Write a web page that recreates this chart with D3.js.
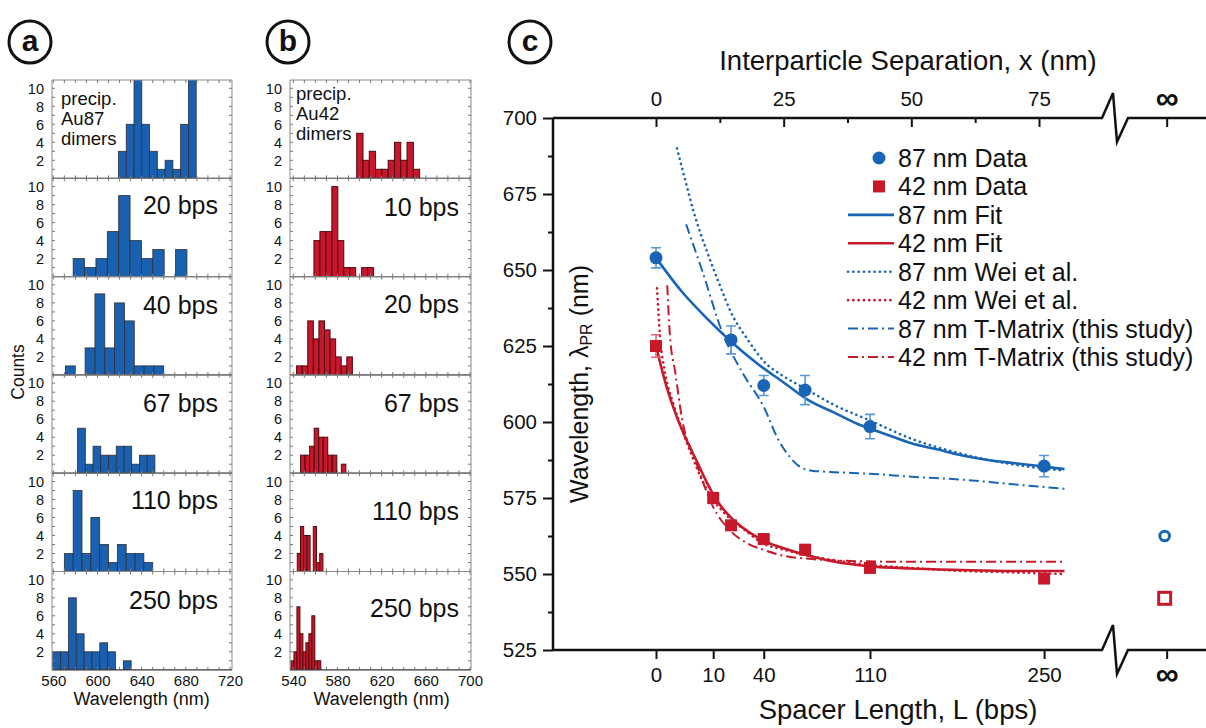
<!DOCTYPE html>
<html>
<head>
<meta charset="utf-8">
<script src="https://cdn.jsdelivr.net/npm/d3@7"></script>
<style>
  body { margin: 0; background: #fff; }
  svg text { font-family: "Liberation Sans", Arial, Helvetica, sans-serif; fill: #111; }
</style>
</head>
<body>
<svg id="fig" width="1206" height="728"></svg>
<script>
/* DATA */
// panel a: 87 nm dimers (left edge of first bin in nm, bin width in nm, counts)
const aNames = ["precip", "20 bps", "40 bps", "67 bps", "110 bps", "250 bps"];
const aStart = [619, 578, 571, 582, 570, 559.5];
const aBin = [7.04, 10.3, 8.9, 7.0, 8.0, 7.1];
const aCounts = [
  [3, 6, 12, 6, 3, 1, 2, 1, 6, 12],
  [2, 1, 2, 5, 9, 4, 2, 3, 0, 3],
  [1, 0, 3, 9, 3, 8, 6, 1, 1, 1],
  [5, 1, 3, 2, 2, 3, 3, 1, 2, 2],
  [2, 9, 2, 6, 3, 1, 3, 2, 2, 1],
  [2, 2, 8, 4, 2, 2, 3, 2, 0, 1]
];
const aTicks = [560, 600, 640, 680, 720];
const aPrecip = ["precip.", "Au87", "dimers"];

// panel b: 42 nm dimers
const bNames = ["precip", "10 bps", "20 bps", "67 bps", "110 bps", "250 bps"];
const bStart = [597.4, 558.7, 543, 546.6, 543.6, 537.9];
const bBin = [5.7, 5.4, 5.05, 4.1, 2.9, 2.7];
const bCounts = [
  [5, 2, 3, 1, 1, 2, 4, 2, 4, 1],
  [4, 5, 5, 10, 4, 1, 1, 0, 1, 1],
  [1, 1, 6, 4, 6, 5, 4, 2, 1, 2],
  [2, 2, 3, 5, 4, 4, 2, 2, 0, 1],
  [2, 5, 4, 4, 0, 5, 1, 2],
  [1, 2, 7, 4, 2, 3, 4, 6, 1, 1]
];
const bTicks = [540, 580, 620, 660, 700];
const bPrecip = ["precip.", "Au42", "dimers"];

// panel c
const sepTicks = [0, 25, 50, 75];
const sepMinor = [12.5, 37.5, 62.5];
const spacerLabels = ["0", "10", "40", "110", "250"];
const spacerSep = [0, 11.2, 21.1, 41.9, 76.0];
const INF = 100; // where the "infinity" column sits on the separation scale

const d87Sep = [0, 14.7, 21.1, 29.2, 41.9, 76.0];
const d87Wl = [654, 627, 612, 610.5, 598.5, 585.5];
const d87Err = [3.3, 4.6, 3.3, 4.8, 4.0, 3.5];
const d42Sep = [0, 11.2, 14.7, 21.1, 29.2, 41.9, 76.0];
const d42Wl = [625, 575, 566, 561.5, 558, 552, 548.5];
const d42Err = [3.7, 1.8, 1.6, 1.6, 1.2, 1.2, 0.8];
const inf87 = 562.5, inf42 = 542;

const fit87 = [[0,654],[5,643],[10,634],[15,626],[20,619],[25,613],[30,607],[35,603],[40,599],[45,596],[50,593],[55,591],[60,589],[65,587.5],[70,586.5],[75,585.5],[80,584.5]];
const fit42 = [[0,625],[2,612],[4,602],[6,594],[8,587],[10,580],[12,574],[15,568],[18,564],[21,561],[25,558.5],[30,556],[35,554],[42,552.5],[50,551.8],[60,551.3],[70,551],[80,551]];
const wei87 = [[4.1,690],[5.5,681],[7.4,669],[10,656],[12.5,645],[14.7,636],[18,627],[21.1,620],[25,615],[29.2,611],[35,605.5],[41.9,600.5],[50,594.5],[60,589.5],[70,586],[80,584]];
const wei42 = [[0.2,644],[0.8,628],[1.8,616],[3.4,606],[5,598],[7,589],[9,581],[11,575],[14,569],[17,565],[21,560],[25,558],[30,556],[35,554.5],[42,553],[50,552],[60,551],[70,550.5],[80,550]];
const tm87 = [[5.9,665],[9,650],[13.1,629],[17,616],[21.1,605],[24,594],[26.2,588.5],[28,585.5],[30.5,584],[35,583.5],[41.7,583],[50,582],[60.3,581],[70,579.5],[80.3,578]];
const tm42 = [[2.2,645],[2.7,629],[3.8,616],[5.1,601],[7.6,588],[11.2,572],[14.7,564],[18,560],[21,558],[25,556],[30,555],[40,554.2],[50,554],[60,554],[80,554]];

const legendNames = ["87 nm Data", "42 nm Data", "87 nm Fit", "42 nm Fit", "87 nm Wei et al.", "42 nm Wei et al.", "87 nm T-Matrix (this study)", "42 nm T-Matrix (this study)"];

/* STYLE */
const BLUE = "#1865b5", RED = "#c8192b";
const BLUE_ERR = "#5b98d8", RED_ERR = "#e2686e";
const DOT = "0.1,5.2", DASHDOT = "10,4,2,4";

const svg = d3.select("#fig");

/* PANEL LABELS */
[["a", 30], ["b", 288], ["c", 530]].forEach(([t, cx]) => {
  svg.append("circle").attr("cx", cx).attr("cy", 42).attr("r", 21)
    .attr("fill", "#fff").attr("stroke", "#111").attr("stroke-width", 3);
  svg.append("text").attr("x", cx).attr("y", 51).attr("text-anchor", "middle")
    .attr("font-size", 30).attr("font-weight", "bold").text(t);
});

/* HISTOGRAMS */
function histPanel(cfg) {
  const x = d3.scaleLinear().domain([cfg.ticks[0], cfg.ticks[cfg.ticks.length - 1]]).range(cfg.range);
  const g = svg.append("g");
  const h = cfg.h;
  cfg.counts.forEach((counts, i) => {
    const top = cfg.top + i * h, bottom = top + h;
    const y = d3.scaleLinear().domain([0, 10]).range([bottom, bottom - 90]);
    const sub = g.append("g");
    const clipId = cfg.id + i;
    sub.append("clipPath").attr("id", clipId).append("rect")
      .attr("x", cfg.left).attr("y", top).attr("width", cfg.right - cfg.left).attr("height", h);
    const bins = counts.map((c, k) => ({ x0: cfg.start[i] + k * cfg.bin[i], x1: cfg.start[i] + (k + 1) * cfg.bin[i], c }));
    sub.append("g").attr("clip-path", `url(#${clipId})`)
      .selectAll("rect").data(bins.filter(d => d.c > 0)).join("rect")
      .attr("x", d => x(d.x0)).attr("width", d => x(d.x1) - x(d.x0))
      .attr("y", d => y(d.c)).attr("height", d => y(0) - y(d.c))
      .attr("fill", cfg.fill).attr("stroke", cfg.stroke).attr("stroke-width", cfg.sw);

    // frame
    sub.append("path")
      .attr("d", `M${cfg.left},${bottom}V${top}H${cfg.right}V${bottom}`)
      .attr("fill", "none").attr("stroke", "#8a8a8a").attr("stroke-width", 1);
    sub.append("line").attr("x1", cfg.left).attr("x2", cfg.right).attr("y1", bottom).attr("y2", bottom)
      .attr("stroke", "#333").attr("stroke-width", 1.2);

    // small inward ticks
    const minorX = x.ticks(16);
    sub.append("g").selectAll("line").data(minorX).join("line")
      .attr("x1", d => x(d)).attr("x2", d => x(d)).attr("y1", bottom).attr("y2", bottom - 3)
      .attr("stroke", "#777").attr("stroke-width", 1);
    sub.append("g").selectAll("line").data(minorX).join("line")
      .attr("x1", d => x(d)).attr("x2", d => x(d)).attr("y1", top).attr("y2", top + 3)
      .attr("stroke", "#777").attr("stroke-width", 1);
    const minorY = d3.range(1, 11);
    sub.append("g").selectAll("line").data(minorY).join("line")
      .attr("x1", cfg.left).attr("x2", cfg.left + 3).attr("y1", d => y(d)).attr("y2", d => y(d))
      .attr("stroke", "#777").attr("stroke-width", 1);
    sub.append("g").selectAll("line").data(minorY).join("line")
      .attr("x1", cfg.right).attr("x2", cfg.right - 3).attr("y1", d => y(d)).attr("y2", d => y(d))
      .attr("stroke", "#777").attr("stroke-width", 1);

    // count labels
    sub.append("g").selectAll("text").data([2, 4, 6, 8, 10]).join("text")
      .attr("x", cfg.left - 8).attr("y", d => y(d)).attr("dy", "0.36em")
      .attr("text-anchor", "end").attr("font-size", 14.5).text(d => d);

    // name
    if (i === 0) {
      sub.append("g").selectAll("text").data(cfg.precip).join("text")
        .attr("x", cfg.left + cfg.precipDx).attr("y", (d, k) => top + cfg.precipDy + k * 20)
        .attr("font-size", 18.5).text(d => d);
    } else {
      sub.append("text").attr("x", cfg.labelX).attr("y", top + cfg.labelDy[i])
        .attr("text-anchor", "end").attr("font-size", 25).text(cfg.names[i]);
    }
  });

  const bottom = cfg.top + cfg.counts.length * h;
  g.append("g").attr("transform", `translate(0,${bottom})`)
    .call(d3.axisBottom(x).tickValues(cfg.ticks).tickSize(0).tickPadding(6))
    .call(a => a.select(".domain").remove())
    .call(a => a.selectAll("text").attr("font-size", 15).attr("font-family", null).attr("fill", "#111"));
  g.append("text").attr("x", (cfg.range[0] + cfg.range[1]) / 2).attr("y", 705)
    .attr("text-anchor", "middle").attr("font-size", 18).text("Wavelength (nm)");
}

histPanel({
  id: "ca", counts: aCounts, start: aStart, bin: aBin, names: aNames, precip: aPrecip,
  ticks: aTicks, range: [53.3, 230], left: 52, right: 232, top: 80, h: 98.3,
  fill: "#1a60b0", stroke: "#2f2f38", sw: 0.8, labelX: 218, labelDy: [0, 36, 37, 37, 36, 37],
  precipDx: 9, precipDy: 25
});
histPanel({
  id: "cb", counts: bCounts, start: bStart, bin: bBin, names: bNames, precip: bPrecip,
  ticks: bTicks, range: [293.3, 470], left: 290, right: 471, top: 80, h: 98.3,
  fill: "#c8162c", stroke: "#4e0a0e", sw: 1, labelX: 459, labelDy: [0, 38, 36, 37, 47, 45],
  precipDx: 6, precipDy: 20
});

svg.append("text").attr("transform", "translate(24,372) rotate(-90)")
  .attr("text-anchor", "middle").attr("font-size", 17.5).text("Counts");

/* PANEL C */
const xC = d3.scaleLinear().domain([0, 75]).range([656, 1039]);
const yC = d3.scaleLinear().domain([525, 700]).range([650, 118]);
const gc = svg.append("g");

// axes with breaks
const breakLine = y => `M553,${y}H1102L1113,${y - 25}L1117,${y + 24}L1128,${y}H1206`;
gc.append("path").attr("d", breakLine(yC(700))).attr("fill", "none").attr("stroke", "#111").attr("stroke-width", 2.5);
gc.append("path").attr("d", breakLine(yC(525))).attr("fill", "none").attr("stroke", "#111").attr("stroke-width", 2.5);
gc.append("line").attr("x1", 553).attr("x2", 553).attr("y1", yC(700)).attr("y2", yC(525))
  .attr("stroke", "#111").attr("stroke-width", 2.5);

function styleAxis(a, size) {
  a.select(".domain").remove();
  a.selectAll("line").attr("stroke", "#111").attr("stroke-width", 2);
  a.selectAll("text").attr("font-size", size).attr("font-family", null).attr("fill", "#111");
}

// top: interparticle separation
gc.append("g").attr("transform", `translate(0,${yC(700)})`)
  .call(d3.axisTop(xC).tickValues(sepTicks.concat([INF])).tickFormat(d => d === INF ? "∞" : d)
    .tickSizeInner(-9).tickSizeOuter(0).tickPadding(12))
  .call(a => styleAxis(a, 20.5))
  .call(a => a.selectAll(".tick").filter(d => d === INF).select("text")
    .attr("font-size", 32).attr("font-weight", "bold").attr("dy", "0.08em"));
gc.append("g").attr("transform", `translate(0,${yC(700)})`)
  .call(d3.axisTop(xC).tickValues(sepMinor).tickFormat("").tickSizeInner(-5).tickSizeOuter(0))
  .call(a => styleAxis(a, 20));

// bottom: spacer length
gc.append("g").attr("transform", `translate(0,${yC(525)})`)
  .call(d3.axisBottom(xC).tickValues(spacerSep.concat([INF]))
    .tickFormat((d, i) => d === INF ? "∞" : spacerLabels[i])
    .tickSize(9).tickPadding(8))
  .call(a => styleAxis(a, 20.5))
  .call(a => a.selectAll(".tick").filter(d => d === INF).select("text")
    .attr("font-size", 32).attr("font-weight", "bold").attr("dy", "0.55em"));

// left: wavelength
gc.append("g").attr("transform", "translate(553,0)")
  .call(d3.axisLeft(yC).tickValues(d3.range(525, 701, 25)).tickSize(10).tickPadding(6))
  .call(a => styleAxis(a, 20.5));
gc.append("g").attr("transform", "translate(553,0)")
  .call(d3.axisLeft(yC).tickValues(d3.range(537.5, 700, 25)).tickFormat("").tickSize(5))
  .call(a => styleAxis(a, 20));

// axis titles
gc.append("text").attr("x", 908).attr("y", 70).attr("text-anchor", "middle")
  .attr("font-size", 27.5).text("Interparticle Separation, x (nm)");
gc.append("text").attr("x", 898).attr("y", 719).attr("text-anchor", "middle")
  .attr("font-size", 27.5).text("Spacer Length, L (bps)");
const yt = gc.append("text").attr("transform", `translate(588,${(yC(700) + yC(525)) / 2}) rotate(-90)`)
  .attr("text-anchor", "middle").attr("font-size", 25);
yt.append("tspan").text("Wavelength, λ");
yt.append("tspan").attr("font-size", 16).attr("dy", 4).text("PR");
yt.append("tspan").attr("dy", -4).text(" (nm)");

// curves
const line = d3.line().x(d => xC(d[0])).y(d => yC(d[1])).curve(d3.curveMonotoneX);
const curves = [
  { d: wei87, c: BLUE, dash: DOT, w: 2.6 },
  { d: wei42, c: RED, dash: DOT, w: 2.6 },
  { d: tm87, c: BLUE, dash: DASHDOT, w: 2 },
  { d: tm42, c: RED, dash: DASHDOT, w: 2 },
  { d: fit87, c: BLUE, dash: null, w: 2.6 },
  { d: fit42, c: RED, dash: null, w: 2.6 }
];
gc.append("g").selectAll("path").data(curves).join("path")
  .attr("d", d => line(d.d)).attr("fill", "none")
  .attr("stroke", d => d.c).attr("stroke-width", d => d.w)
  .attr("stroke-dasharray", d => d.dash).attr("stroke-linecap", d => d.dash === DOT ? "round" : "butt");

// error bars
function errBars(xs, ys, es, color) {
  const g = gc.append("g").attr("stroke", color).attr("stroke-width", 1.6).attr("fill", "none");
  xs.forEach((xv, i) => {
    const cx = xC(xv), y0 = yC(ys[i] - es[i]), y1 = yC(ys[i] + es[i]);
    g.append("path").attr("d", `M${cx - 5},${y1}H${cx + 5}M${cx},${y1}V${y0}M${cx - 5},${y0}H${cx + 5}`);
  });
}
errBars(d87Sep, d87Wl, d87Err, BLUE_ERR);
errBars(d42Sep, d42Wl, d42Err, RED_ERR);

// data markers
gc.append("g").selectAll("circle").data(d87Sep).join("circle")
  .attr("cx", d => xC(d)).attr("cy", (d, i) => yC(d87Wl[i])).attr("r", 6.5).attr("fill", BLUE);
gc.append("g").selectAll("rect").data(d42Sep).join("rect")
  .attr("x", d => xC(d) - 6).attr("y", (d, i) => yC(d42Wl[i]) - 6)
  .attr("width", 12).attr("height", 12).attr("fill", RED);

// isolated particles (infinite separation)
gc.append("circle").attr("cx", xC(INF) - 2).attr("cy", yC(inf87)).attr("r", 4.8)
  .attr("fill", "#fff").attr("stroke", BLUE).attr("stroke-width", 3);
gc.append("rect").attr("x", xC(INF) - 8).attr("y", yC(inf42) - 6).attr("width", 12).attr("height", 12)
  .attr("fill", "#fff").attr("stroke", RED).attr("stroke-width", 3);

// legend
const legY = d3.scalePoint().domain(legendNames).range([158, 357]);
const leg = gc.append("g");
const legStyle = [
  { m: "circle", c: BLUE }, { m: "square", c: RED },
  { c: BLUE, dash: null }, { c: RED, dash: null },
  { c: BLUE, dash: DOT }, { c: RED, dash: DOT },
  { c: BLUE, dash: DASHDOT }, { c: RED, dash: DASHDOT }
];
legendNames.forEach((name, i) => {
  const y = legY(name), s = legStyle[i];
  if (s.m === "circle") {
    leg.append("circle").attr("cx", 879).attr("cy", y).attr("r", 6.5).attr("fill", s.c);
  } else if (s.m === "square") {
    leg.append("rect").attr("x", 873).attr("y", y - 6).attr("width", 12).attr("height", 12).attr("fill", s.c);
  } else {
    leg.append("line").attr("x1", 848).attr("x2", 894).attr("y1", y).attr("y2", y)
      .attr("stroke", s.c).attr("stroke-width", s.dash === DASHDOT ? 2 : 2.6)
      .attr("stroke-dasharray", s.dash).attr("stroke-linecap", s.dash === DOT ? "round" : "butt");
  }
  leg.append("text").attr("x", 898).attr("y", y).attr("dy", "0.36em")
    .attr("font-size", 25).text(name);
});
</script>
</body>
</html>
